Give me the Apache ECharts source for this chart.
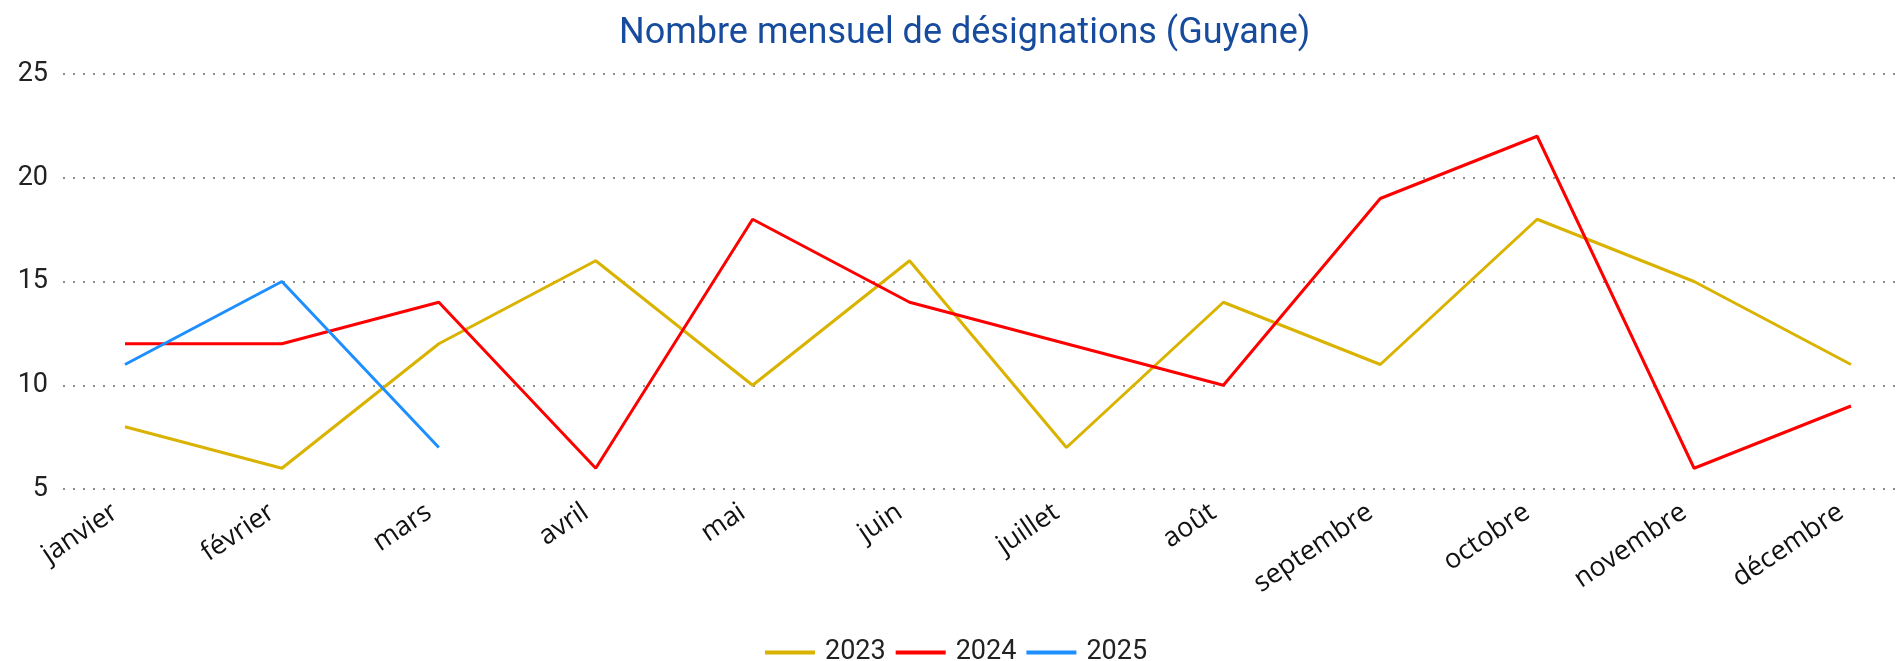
<!DOCTYPE html>
<html>
<head>
<meta charset="utf-8">
<script src="https://cdn.jsdelivr.net/npm/echarts@6/dist/echarts.min.js"></script>
<style>
html,body{margin:0;padding:0;background:#fff;}
#chart{width:1898px;height:661px;}
</style>
</head>
<body>
<div id="chart"></div>
<script>
const months = ['janvier','février','mars','avril','mai','juin','juillet','août','septembre','octobre','novembre','décembre'];
const s2023 = [8, 6, 12, 16, 10, 16, 7, 14, 11, 18, 15, 11];
const s2024 = [12, 12, 14, 6, 18, 14, 12, 10, 19, 22, 6, 9];
const s2025 = [11, 15, 7];
const seriesNames = ['2023', '2024', '2025'];
const seriesColors = ['#D9B300', '#FF0000', '#1E8FFF'];
const yMin = 5, yMax = 25, yStep = 5;

const chart = echarts.init(document.getElementById('chart'), null, {renderer: 'canvas'});
const values = [s2023, s2024, s2025];
chart.setOption({
  animation: false,
  backgroundColor: '#ffffff',
  title: {
    text: 'Nombre mensuel de désignations (Guyane)',
    left: 614,
    top: 11,
    textStyle: {fontFamily: 'Roboto', fontWeight: 'normal', fontSize: 36, color: '#164B9D'}
  },
  legend: {
    bottom: -10,
    left: 760,
    icon: 'rect',
    itemWidth: 50,
    itemHeight: 4,
    itemGap: 10,
    textStyle: {fontFamily: 'Roboto', fontSize: 27, color: '#222', padding: [0,0,0,5]},
    data: seriesNames
  },
  grid: [
    {left: 63, right: 3, top: 74, bottom: 172, containLabel: false},
    {left: 125, right: 47, top: 74, bottom: 172, containLabel: false}
  ],
  xAxis: [
    {gridIndex: 0, type: 'category', data: months, show: false},
    {
      gridIndex: 1, type: 'category', data: months, boundaryGap: false,
      axisLine: {show: false}, axisTick: {show: false},
      axisLabel: {rotate: 34, margin: 14, interval: 0, padding: [0, 12, 0, 0], fontFamily: 'Open Sans', fontSize: 27, color: '#111'}
    }
  ],
  yAxis: [
    {
      gridIndex: 0, type: 'value', min: yMin, max: yMax, interval: yStep,
      axisLine: {show: false}, axisTick: {show: false},
      axisLabel: {margin: 15, fontFamily: 'Roboto', fontSize: 27, color: '#222'},
      splitLine: {lineStyle: {type: [2, 8], width: 1.5, color: '#666'}}
    },
    {gridIndex: 1, type: 'value', min: yMin, max: yMax, interval: yStep, show: false, splitLine: {show: false}}
  ],
  series: seriesNames.map((n, i) => ({
    name: n,
    type: 'line',
    xAxisIndex: 1,
    yAxisIndex: 1,
    data: values[i],
    symbol: 'none',
    color: seriesColors[i],
    lineStyle: {width: 3, color: seriesColors[i]}
  }))
});
</script>
</body>
</html>
